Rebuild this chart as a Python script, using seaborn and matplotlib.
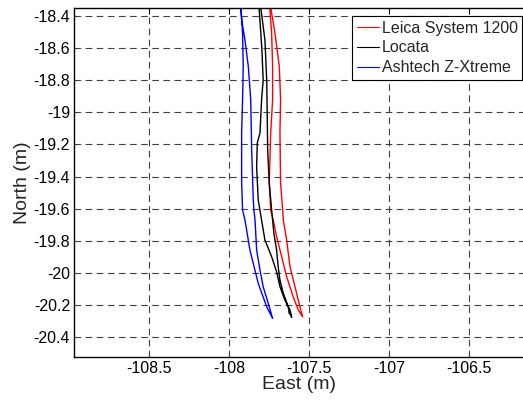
import pandas as pd
import matplotlib
matplotlib.use("Agg")
import matplotlib.pyplot as plt
import seaborn as sns

# trajectories (east, north); each one goes down one side and back up the other
leica_east = [-107.746, -107.745, -107.734, -107.728, -107.728, -107.740, -107.749, -107.740,
              -107.724, -107.703, -107.671, -107.640, -107.599, -107.567, -107.540,
              -107.557, -107.588, -107.619, -107.640, -107.661, -107.665, -107.678, -107.682,
              -107.678, -107.686, -107.713, -107.738, -107.742]
leica_north = [-18.30, -18.360, -18.510, -18.717, -18.924, -19.130, -19.440, -19.608,
               -19.671, -19.774, -19.899, -20.023, -20.148, -20.230, -20.272,
               -20.210, -20.085, -19.961, -19.795, -19.671, -19.608, -19.440, -19.130,
               -18.924, -18.717, -18.510, -18.360, -18.30]

locata_east = [-107.813, -107.812, -107.795, -107.787, -107.797, -107.807, -107.824, -107.828,
               -107.818, -107.797, -107.776, -107.734, -107.703, -107.682, -107.651, -107.619,
               -107.609, -107.612, -107.624, -107.630, -107.661, -107.682, -107.693, -107.703,
               -107.720, -107.728, -107.734, -107.749, -107.759, -107.762, -107.765, -107.776,
               -107.801, -107.805]
locata_north = [-18.30, -18.360, -18.613, -18.800, -18.924, -19.130, -19.192, -19.341,
                -19.546, -19.671, -19.795, -19.899, -19.992, -20.085, -20.168, -20.230,
                -20.276, -20.262, -20.251, -20.210, -20.126, -20.044, -19.961, -19.857,
                -19.753, -19.671, -19.608, -19.440, -19.235, -18.986, -18.800, -18.551,
                -18.360, -18.30]

ashtech_east = [-107.930, -107.926, -107.916, -107.912, -107.916, -107.922, -107.922, -107.916,
                -107.901, -107.870, -107.818, -107.765, -107.728,
                -107.755, -107.787, -107.807, -107.828, -107.838, -107.845, -107.849,
                -107.859, -107.865, -107.880, -107.901, -107.922, -107.928]
ashtech_north = [-18.30, -18.360, -18.510, -18.717, -18.924, -19.130, -19.440, -19.608,
                 -19.671, -19.857, -20.064, -20.210, -20.282,
                 -20.189, -20.085, -19.982, -19.857, -19.671, -19.608, -19.546,
                 -19.235, -18.924, -18.717, -18.551, -18.427, -18.30]

series_names = ["Leica System 1200", "Locata", "Ashtech Z-Xtreme"]
series_colors = ["red", "black", "blue"]

x_ticks = [-108.5, -108, -107.5, -107, -106.5]
y_ticks = [-18.4, -18.6, -18.8, -19, -19.2, -19.4, -19.6, -19.8, -20, -20.2, -20.4]


def tick_label(v):
    return f"{v:g}"


def main():
    frames = []
    for name, east, north in zip(series_names,
                                 [leica_east, locata_east, ashtech_east],
                                 [leica_north, locata_north, ashtech_north]):
        frames.append(pd.DataFrame({"east": east, "north": north, "system": name,
                                    "order": range(len(east))}))
    df = pd.concat(frames, ignore_index=True)

    sns.set_style("white")
    plt.rcParams["font.family"] = ["Liberation Sans", "DejaVu Sans"]

    fig = plt.figure(figsize=(5.23, 4.01), dpi=100)
    ax = fig.add_axes([0.142, 0.1105, 0.858, 0.869])

    sns.lineplot(data=df, x="east", y="north", hue="system", hue_order=series_names,
                 palette=dict(zip(series_names, series_colors)), sort=False,
                 estimator=None, units="system", linewidth=1.0, ax=ax)

    ax.set_xlim(-108.97, -106.16)
    ax.set_ylim(-20.52, -18.354)
    ax.set_xticks(x_ticks)
    ax.set_xticklabels([tick_label(v) for v in x_ticks])
    ax.set_yticks(y_ticks)
    ax.set_yticklabels([tick_label(v) for v in y_ticks])
    ax.tick_params(direction="in", length=4, width=0.8, top=True, right=False,
                   labelsize=11.5, colors="black", pad=3)

    ax.grid(True, color="0.25", linestyle=(0, (6, 4)), linewidth=0.8)
    for side in ["left", "bottom", "top"]:
        ax.spines[side].set_color("black")
        ax.spines[side].set_linewidth(1.0)
    ax.spines["right"].set_visible(False)

    ax.set_xlabel("East (m)", fontsize=14, labelpad=0)
    ax.set_ylabel("North (m)", fontsize=14, labelpad=2)

    leg = ax.legend(loc="upper right", bbox_to_anchor=(0.9985, 0.978), fontsize=11.5,
                    frameon=True, fancybox=False, shadow=False, borderpad=0.3,
                    labelspacing=0.3, handlelength=1.4, handletextpad=0.15,
                    borderaxespad=0.0, title=None)
    leg.get_frame().set_edgecolor("black")
    leg.get_frame().set_linewidth(0.8)
    leg.get_frame().set_alpha(1.0)
    for line in leg.get_lines():
        line.set_linewidth(0.8)

    fig.savefig("out.png", dpi=100)
    plt.close(fig)


if __name__ == "__main__":
    main()
